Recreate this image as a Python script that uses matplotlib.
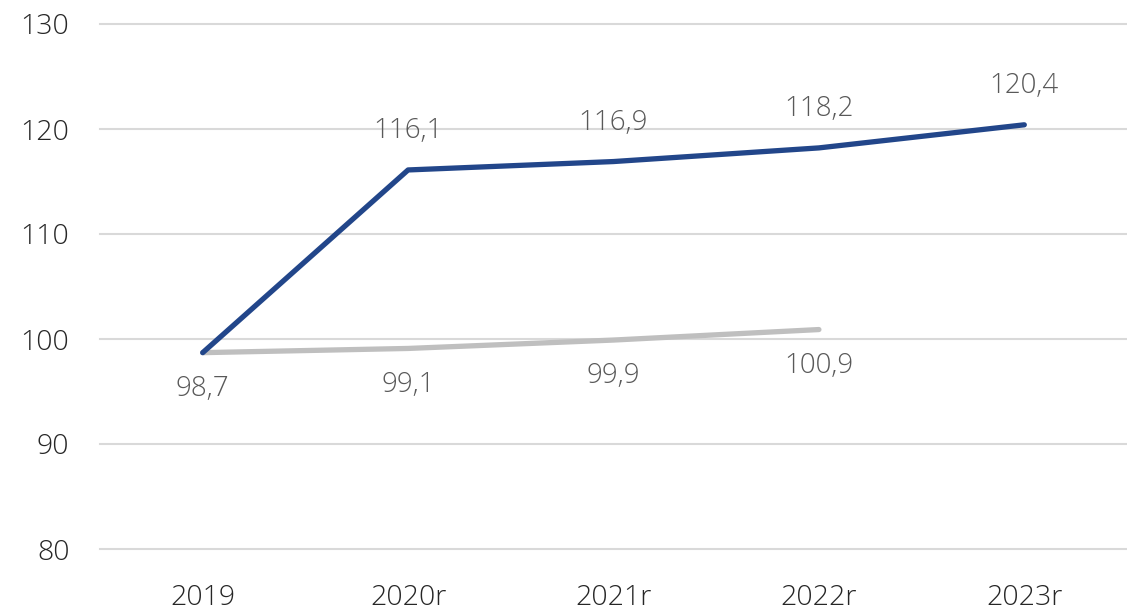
import matplotlib
matplotlib.use("Agg")
import matplotlib.pyplot as plt

categories = ["2019", "2020r", "2021r", "2022r", "2023r"]
series_blue = [98.7, 116.1, 116.9, 118.2, 120.4]
series_gray = [98.7, 99.1, 99.9, 100.9]
gray_labels = ["98,7", "99,1", "99,9", "100,9"]
blue_labels = [None, "116,1", "116,9", "118,2", "120,4"]
yticks = [80, 90, 100, 110, 120, 130]

plt.rcParams['font.family'] = ['Open Sans', 'DejaVu Sans']

fig = plt.figure(figsize=(11.27, 6.10), dpi=100)
ax = fig.add_axes([100/1127, 61/610, 1027/1127, 525/610])

x = list(range(len(categories)))
ax.plot(x[:len(series_gray)], series_gray, color="#BFBFBF", lw=3.8,
        solid_capstyle="round", solid_joinstyle="round", zorder=3)
ax.plot(x, series_blue, color="#22468A", lw=3.8,
        solid_capstyle="round", solid_joinstyle="round", zorder=4)

for xi, v, lab in zip(x, series_blue, blue_labels):
    if lab:
        ax.annotate(lab, (xi, v), xytext=(0, 28), textcoords="offset points",
                    ha="center", va="center", fontsize=20, color="#595959",
                    fontweight="light")
for xi, v, lab in zip(x, series_gray, gray_labels):
    ax.annotate(lab, (xi, v), xytext=(0, -26), textcoords="offset points",
                ha="center", va="center", fontsize=20, color="#595959",
                fontweight="light")

ax.set_xlim(-0.5, len(categories) - 0.5)
ax.set_ylim(80, 130)
ax.set_xticks(x)
ax.set_xticklabels(categories)
ax.set_yticks(yticks)
ax.set_yticklabels([str(t) for t in yticks])
ax.tick_params(axis="both", length=0, labelsize=20.5, colors="#262626")
ax.tick_params(axis="y", pad=22)
ax.tick_params(axis="x", pad=25)
for lab in ax.get_xticklabels() + ax.get_yticklabels():
    lab.set_fontweight("light")
ax.grid(axis="y", color="#D9D9D9", lw=1.5)
for gl in ax.get_ygridlines():
    gl.set_clip_on(False)
for s in ax.spines.values():
    s.set_visible(False)
ax.set_axisbelow(True)

fig.savefig("out.png", dpi=100)
